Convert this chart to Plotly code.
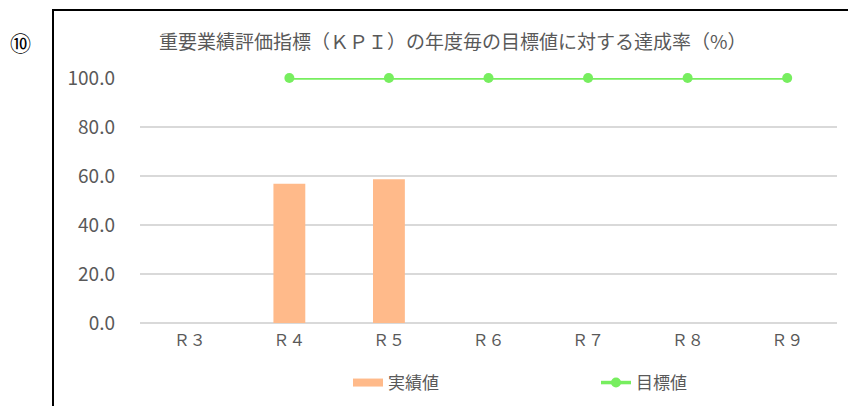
import plotly.graph_objects as go

categories = ["Ｒ３", "Ｒ４", "Ｒ５", "Ｒ６", "Ｒ７", "Ｒ８", "Ｒ９"]
actual = [None, 56.8, 58.7, None, None, None, None]
target = [None, 100, 100, 100, 100, 100, 100]
y_ticks = [0, 20, 40, 60, 80, 100]
y_ticktext = ["0.0", "20.0", "40.0", "60.0", "80.0", "100.0"]
title_text = "重要業績評価指標（ＫＰＩ）の年度毎の目標値に対する達成率（%）"
series_names = ["実績値", "目標値"]

W, H = 848, 406
L, R, T, B = 140, 11, 78, 83
pw, ph = W - L - R, H - T - B

def px(x):
    return (x - L) / pw

def py(y):
    return (H - B - y) / ph

FONT = "Noto Sans CJK JP"
GRAY = "#595959"
ORANGE = "#FFBA8A"
GREEN = "#77EE5F"

fig = go.Figure()
fig.add_trace(go.Bar(x=categories, y=actual, name=series_names[0],
                     marker=dict(color=ORANGE, line=dict(width=0)), width=0.32,
                     showlegend=False))
# legend key for the bars (wide bar swatch, as in the original)
fig.add_trace(go.Scatter(x=[None], y=[None], name=series_names[0], mode="lines",
                         line=dict(color=ORANGE, width=8), legend="legend"))
fig.add_trace(go.Scatter(x=categories, y=target, name=series_names[1], mode="lines+markers",
                         line=dict(color=GREEN, width=3.5),
                         marker=dict(size=10, color=GREEN), cliponaxis=False,
                         legend="legend2"))

legend_common = dict(orientation="h", yanchor="middle", xanchor="left",
                     font=dict(size=17, color=GRAY, family=FONT),
                     bgcolor="rgba(0,0,0,0)", itemwidth=30)

fig.update_layout(
    width=W, height=H,
    margin=dict(l=L, r=R, t=T, b=B, autoexpand=False),
    paper_bgcolor="white", plot_bgcolor="white",
    font=dict(family=FONT, color=GRAY, size=15),
    showlegend=True,
    legend=dict(x=px(348), y=py(383), **legend_common),
    legend2=dict(x=px(596), y=py(383), **legend_common),
)
fig.update_xaxes(showgrid=False, showline=False, zeroline=False, ticks="",
                 tickfont=dict(size=16, color=GRAY, family=FONT), ticklabelstandoff=6)
fig.update_yaxes(range=[0, 100], tickvals=y_ticks, ticktext=y_ticktext,
                 showgrid=True, gridcolor="#D9D9D9", gridwidth=1.5,
                 zeroline=True, zerolinecolor="#D9D9D9", zerolinewidth=1.5,
                 showline=False, ticks="", ticklabelstandoff=24,
                 tickfont=dict(size=19, color=GRAY, family="Liberation Sans Narrow, " + FONT))

# frame
fig.add_shape(type="line", xref="paper", yref="paper", x0=px(53), x1=px(53), y0=py(10), y1=py(410),
              line=dict(color="black", width=2))
fig.add_shape(type="line", xref="paper", yref="paper", x0=px(52), x1=px(850), y0=py(10), y1=py(10),
              line=dict(color="black", width=2))

fig.add_annotation(text="⑩", xref="paper", yref="paper", x=px(21), y=py(42), showarrow=False,
                   font=dict(size=21, color="black", family=FONT), xanchor="center", yanchor="middle")
fig.add_annotation(text=title_text, xref="paper", yref="paper", x=px(453), y=py(41), showarrow=False,
                   font=dict(size=19, color=GRAY, family=FONT), xanchor="center", yanchor="middle")

fig.write_html("out.html", config={"displayModeBar": False},
               post_script="document.body.style.margin='0';document.body.style.overflow='hidden';")
